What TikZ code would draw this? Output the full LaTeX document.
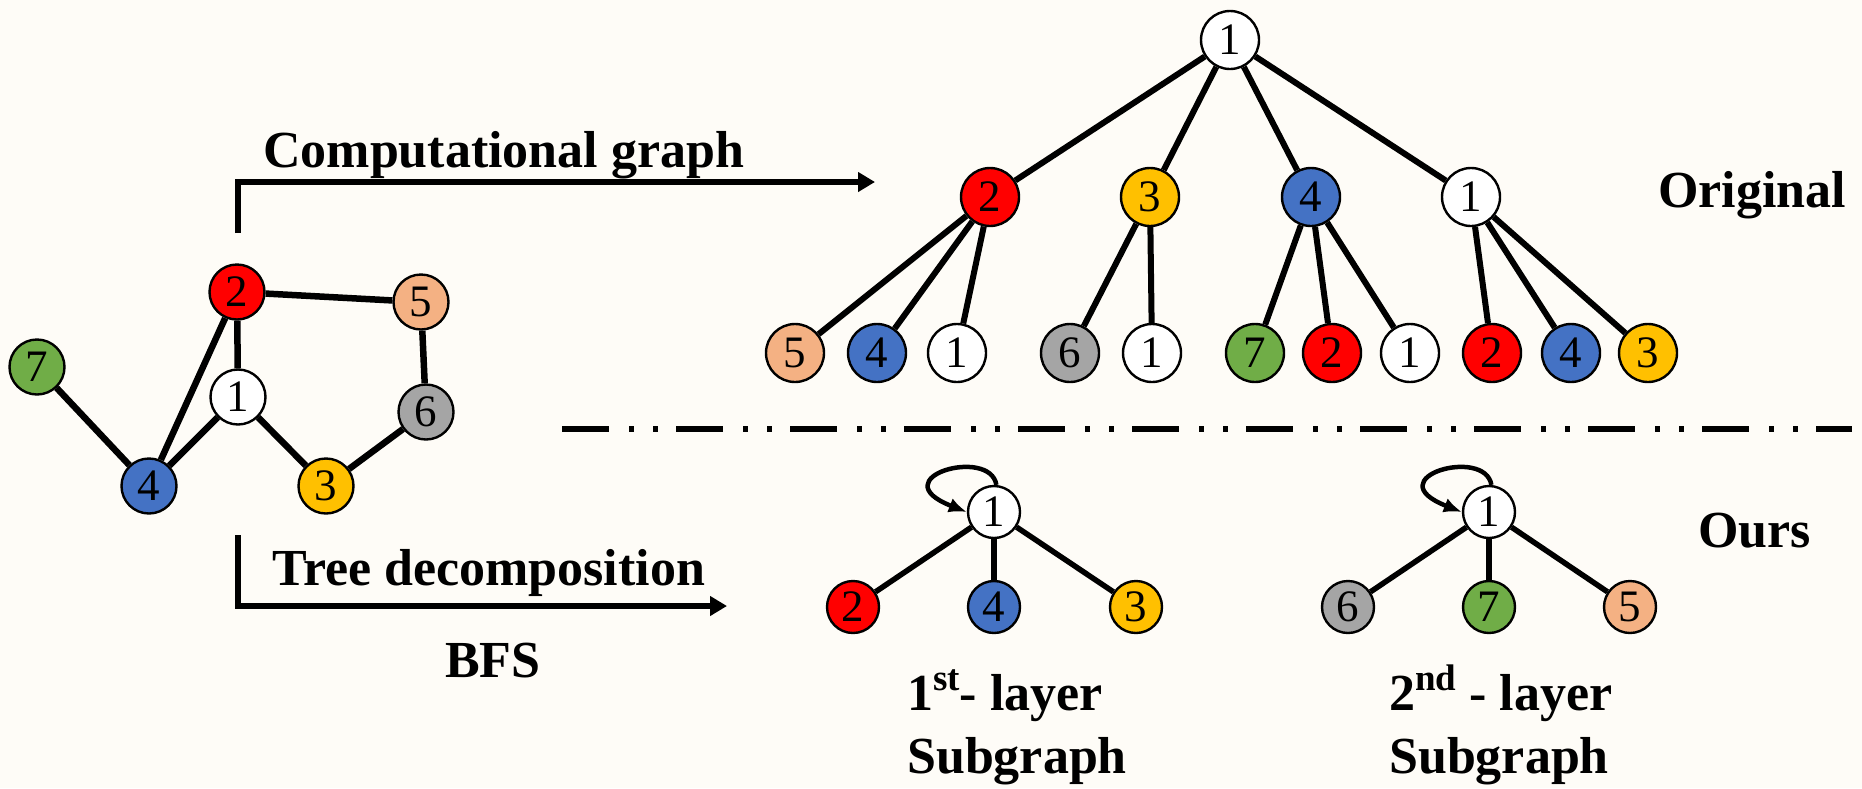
\documentclass[tikz,border=0pt]{standalone}
\usepackage{fontspec}
\setmainfont{Liberation Serif}
\usetikzlibrary{arrows.meta}
\definecolor{bgcream}{RGB}{254,252,247}
\definecolor{nred}{RGB}{255,0,0}
\definecolor{nyellow}{RGB}{255,192,0}
\definecolor{nblue}{RGB}{68,114,196}
\definecolor{ngreen}{RGB}{112,173,71}
\definecolor{ngray}{RGB}{165,165,165}
\definecolor{npeach}{RGB}{244,177,131}
\begin{document}
\begin{tikzpicture}[x=1pt,y=-1pt,
  vtx/.style={circle,draw=black,line width=2.4pt,inner sep=0pt,fill=white,
    font=\fontsize{45}{45}\selectfont},
  gv/.style={vtx,minimum size=55pt},
  tv/.style={vtx,minimum size=58pt},
  sv/.style={vtx,minimum size=52pt},
  gedge/.style={line width=6.5pt},
  tedge/.style={line width=6pt},
  sedge/.style={line width=5.5pt},
  lbl/.style={inner sep=0pt,anchor=base west,font=\fontsize{52}{62}\selectfont\bfseries},
  flow/.style={line width=5.5pt,line join=miter,-{Triangle[length=17pt,width=19pt]}},
  selfloop/.style={line width=4.5pt,-{Latex[length=18pt,width=15pt]}},
  sep/.style={line width=6pt,dash pattern=on 47pt off 20pt on 5pt off 19pt on 5pt off 18pt}
]
% canvas
\fill[bgcream] (0,0) rectangle (1862,788);
\useasboundingbox (0,0) rectangle (1862,788);

% ---- input graph ----
\node[gv,fill=nred]    (g2) at (237,292) {2};
\node[gv,fill=npeach]  (g5) at (421,302) {5};
\node[gv,fill=ngreen]  (g7) at (37,367)  {7};
\node[gv]              (g1) at (238,397) {1};
\node[gv,fill=ngray]   (g6) at (426,412) {6};
\node[gv,fill=nblue]   (g4) at (149,486) {4};
\node[gv,fill=nyellow] (g3) at (326,486) {3};
\draw[gedge] (g2) -- (g5);
\draw[gedge] (g2) -- (g1);
\draw[gedge] (g2) -- (g4);
\draw[gedge] (g7) -- (g4);
\draw[gedge] (g4) -- (g1);
\draw[gedge] (g1) -- (g3);
\draw[gedge] (g3) -- (g6);
\draw[gedge] (g5) -- (g6);

% ---- flow arrows ----
\coordinate (upStart) at (238,233);
\coordinate (upBend)  at (238,182);
\coordinate (upEnd)   at (875,182);
\draw[flow] (upStart) -- (upBend) -- (upEnd);
\node[lbl] (cgLabel) at (263,167) {Computational graph};

\coordinate (dnStart) at (238,535);
\coordinate (dnBend)  at (238,606);
\coordinate (dnEnd)   at (727,606);
\draw[flow] (dnStart) -- (dnBend) -- (dnEnd);
\node[lbl] (tdLabel)  at (272,585) {Tree decomposition};
\node[lbl] (bfsLabel) at (445,677) {BFS};

% ---- computational tree ----
\node[tv] (t1) at (1230,40) {1};
\node[tv,fill=nred]    (a2) at (990,197)  {2};
\node[tv,fill=nyellow] (a3) at (1150,197) {3};
\node[tv,fill=nblue]   (a4) at (1311,197) {4};
\node[tv]              (a1) at (1471,197) {1};
\node[tv,fill=npeach]  (b5)  at (795,353)  {5};
\node[tv,fill=nblue]   (b4)  at (877,353)  {4};
\node[tv]              (b1)  at (957,353)  {1};
\node[tv,fill=ngray]   (b6)  at (1070,353) {6};
\node[tv]              (b1b) at (1152,353) {1};
\node[tv,fill=ngreen]  (b7)  at (1255,353) {7};
\node[tv,fill=nred]    (b2)  at (1332,353) {2};
\node[tv]              (b1c) at (1410,353) {1};
\node[tv,fill=nred]    (b2b) at (1492,353) {2};
\node[tv,fill=nblue]   (b4b) at (1571,353) {4};
\node[tv,fill=nyellow] (b3)  at (1648,353) {3};
\foreach \c in {a2,a3,a4,a1} \draw[tedge] (t1) -- (\c);
\foreach \c in {b5,b4,b1} \draw[tedge] (a2) -- (\c);
\foreach \c in {b6,b1b} \draw[tedge] (a3) -- (\c);
\foreach \c in {b7,b2,b1c} \draw[tedge] (a4) -- (\c);
\foreach \c in {b2b,b4b,b3} \draw[tedge] (a1) -- (\c);
\node[lbl] (origLabel) at (1658,207) {Original};

% ---- separator ----
\coordinate (sepL) at (562,429);
\coordinate (sepR) at (1852,429);
\draw[sep] (sepL) -- (sepR);

% ---- first-layer subgraph ----
\node[sv] (s1) at (994,512) {1};
\node[sv,fill=nred]    (s1a) at (853,607)  {2};
\node[sv,fill=nblue]   (s1b) at (994,607)  {4};
\node[sv,fill=nyellow] (s1c) at (1136,607) {3};
\foreach \c in {s1a,s1b,s1c} \draw[sedge] (s1) -- (\c);
\draw[selfloop] (s1.85) .. controls (990,446) and (880,478) .. (s1.west);
\node[lbl] (l1a) at (907,710) {1\raisebox{20pt}{\fontsize{37}{37}\selectfont st}- layer};
\node[lbl] (l1b) at (907,773) {Subgraph};

% ---- second-layer subgraph ----
\node[sv] (s2) at (1489,512) {1};
\node[sv,fill=ngray]   (s2a) at (1348,607) {6};
\node[sv,fill=ngreen]  (s2b) at (1489,607) {7};
\node[sv,fill=npeach]  (s2c) at (1630,607) {5};
\foreach \c in {s2a,s2b,s2c} \draw[sedge] (s2) -- (\c);
\draw[selfloop] (s2.85) .. controls (1485,446) and (1375,478) .. (s2.west);
\node[lbl] (l2a) at (1389,710) {2\raisebox{20pt}{\fontsize{37}{37}\selectfont nd} - layer};
\node[lbl] (l2b) at (1389,773) {Subgraph};

\node[lbl] (oursLabel) at (1698,547) {Ours};
\end{tikzpicture}
\end{document}
